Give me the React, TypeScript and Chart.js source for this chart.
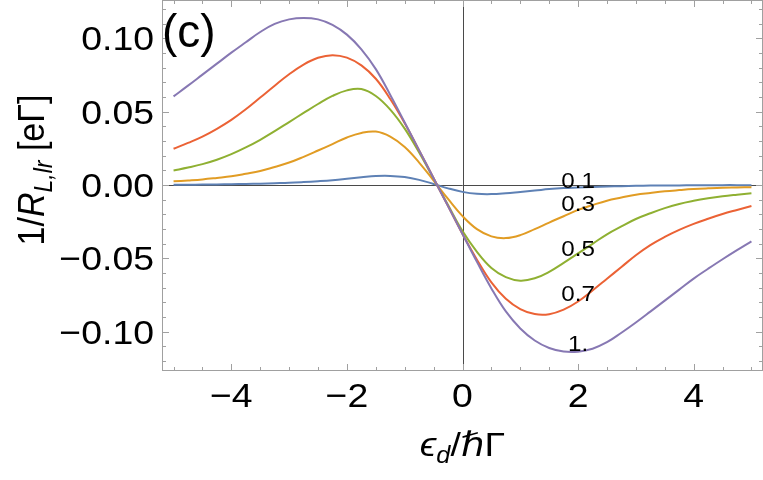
import React, { useEffect, useRef } from "react";
import { Chart, registerables } from "chart.js";

Chart.register(...registerables);

// x grid (ε_d / ħΓ)
const xs = [-5, -4.75, -4.5, -4.25, -4, -3.75, -3.5, -3.25, -3, -2.75, -2.5, -2.25, -2, -1.75, -1.5, -1.25, -1, -0.75, -0.5, -0.25, 0, 0.25, 0.5, 0.75, 1, 1.25, 1.5, 1.75, 2, 2.25, 2.5, 2.75, 3, 3.25, 3.5, 3.75, 4, 4.25, 4.5, 4.75, 5];

// series values (1/R_{L,lr} in eΓ)
const s01 = [0.0002, 0.0002, 0.0003, 0.0004, 0.0005, 0.0007, 0.0009, 0.0012, 0.0015, 0.002, 0.0026, 0.0033, 0.0042, 0.0052, 0.0061, 0.0062, 0.0054, 0.0035, 0.0007, -0.0023, -0.0047, -0.006, -0.0062, -0.0056, -0.0047, -0.0038, -0.0028, -0.0021, -0.0017, -0.0013, -0.001, -0.0008, -0.0006, -0.0004, -0.0003, -0.0003, -0.0002, -0.0002, -0.0001, -0.0001, -0.0001];
const s03 = [0.0025, 0.0031, 0.0038, 0.0048, 0.0059, 0.0076, 0.0095, 0.0123, 0.0153, 0.0192, 0.0235, 0.0279, 0.0324, 0.0355, 0.0364, 0.033, 0.0259, 0.0153, 0.003, -0.0095, -0.0212, -0.0301, -0.035, -0.0362, -0.0342, -0.0301, -0.0256, -0.0213, -0.017, -0.0137, -0.0107, -0.0086, -0.0066, -0.0054, -0.0043, -0.0035, -0.0028, -0.0023, -0.0019, -0.0017, -0.0015];
const s05 = [0.0099, 0.0119, 0.0142, 0.0172, 0.021, 0.0256, 0.0308, 0.0367, 0.0429, 0.0491, 0.0552, 0.0607, 0.0645, 0.0654, 0.0607, 0.0514, 0.0384, 0.0221, 0.0043, -0.0137, -0.0314, -0.0456, -0.0566, -0.0628, -0.0652, -0.0636, -0.0592, -0.0531, -0.0466, -0.0401, -0.0336, -0.0282, -0.0232, -0.0193, -0.0158, -0.0129, -0.0108, -0.0091, -0.0077, -0.0066, -0.0056];
const s07 = [0.0247, 0.0287, 0.033, 0.0383, 0.0444, 0.0516, 0.0596, 0.0677, 0.0755, 0.0821, 0.0867, 0.0885, 0.0868, 0.0815, 0.0724, 0.0586, 0.0421, 0.0236, 0.0046, -0.0144, -0.0334, -0.0509, -0.0664, -0.0776, -0.0846, -0.088, -0.0881, -0.085, -0.0794, -0.0719, -0.0639, -0.0559, -0.0479, -0.041, -0.0354, -0.0306, -0.0265, -0.023, -0.0198, -0.017, -0.0143];
const s10 = [0.0604, 0.0677, 0.0752, 0.0827, 0.0902, 0.0973, 0.1043, 0.1098, 0.1129, 0.1139, 0.1129, 0.1092, 0.1025, 0.0925, 0.079, 0.0614, 0.0426, 0.0236, 0.0046, -0.0144, -0.0334, -0.0524, -0.0705, -0.0862, -0.0978, -0.106, -0.1111, -0.1135, -0.1136, -0.1116, -0.1072, -0.1007, -0.0937, -0.0863, -0.0788, -0.0713, -0.0638, -0.0571, -0.0506, -0.0444, -0.0384];

// curve labels (text placed in data coordinates)
const curveLabels = ["1.", "0.7", "0.5", "0.3", "0.1"];
const curveLabelX = [2, 2, 2, 2, 2];
const curveLabelY = [-0.1079, -0.0738, -0.043, -0.0123, 0.0034];

const seriesList = [s10, s07, s05, s03, s01];
const seriesColors = ["#8778B3", "#EB6235", "#8FB032", "#E19C24", "#5E81B5"];

// ticks
const xTickValues = [-4, -2, 0, 2, 4];
const xTickLabels = ["\u22124", "\u22122", "0", "2", "4"];
const yTickValues = [0.1, 0.05, 0, -0.05, -0.1];
const yTickLabels = ["0.10", "0.05", "0.00", "\u22120.05", "\u22120.10"];

const panelLabel = "(c)";

const FONT = '"Liberation Sans", Arial, Helvetica, "DejaVu Sans", sans-serif';
const SX = 1.1;

type Piece = { t: string; font: string; dy?: number };

function drawPieces(ctx: CanvasRenderingContext2D, pieces: Piece[], x: number, y: number, rotate: boolean) {
  ctx.save();
  ctx.translate(x, y);
  ctx.scale(SX, 1);
  if (rotate) ctx.rotate(-Math.PI / 2);
  ctx.fillStyle = "#000";
  ctx.textBaseline = "alphabetic";
  ctx.textAlign = "left";
  let total = 0;
  const widths = pieces.map((p) => {
    ctx.font = p.font;
    const w = ctx.measureText(p.t).width;
    total += w;
    return w;
  });
  let cx = -total / 2;
  pieces.forEach((p, i) => {
    ctx.font = p.font;
    ctx.fillText(p.t, cx, p.dy || 0);
    cx += widths[i];
  });
  ctx.restore();
}

function drawText(ctx: CanvasRenderingContext2D, t: string, x: number, y: number, font: string, align: CanvasTextAlign, sx = SX) {
  ctx.save();
  ctx.translate(x, y);
  ctx.scale(sx, 1);
  ctx.font = font;
  ctx.textAlign = align;
  ctx.textBaseline = "alphabetic";
  ctx.fillStyle = "#000";
  ctx.fillText(t, 0, 0);
  ctx.restore();
}

const framePlugin = {
  id: "mmaFrame",
  beforeDatasetsDraw(chart: any) {
    const { ctx, chartArea, scales } = chart;
    const { left, right, top, bottom } = chartArea;
    const x0 = Math.round(scales.x.getPixelForValue(0)) + 0.5;
    const y0 = Math.round(scales.y.getPixelForValue(0)) + 0.5;
    ctx.save();
    ctx.strokeStyle = "#4a4a4a";
    ctx.lineWidth = 1;
    ctx.beginPath();
    ctx.moveTo(x0, top);
    ctx.lineTo(x0, bottom);
    ctx.moveTo(left, y0);
    ctx.lineTo(right, y0);
    ctx.stroke();
    ctx.restore();
  },
  afterDatasetsDraw(chart: any) {
    const { ctx, chartArea, scales } = chart;
    const { left, right, top, bottom } = chartArea;
    ctx.save();
    ctx.strokeStyle = "#a0a0a0";
    ctx.lineWidth = 1;
    ctx.strokeRect(left + 0.5, top + 0.5, right - left - 1, bottom - top - 1);
    ctx.beginPath();
    for (let i = -10; i <= 10; i++) {
      const v = i * 0.5;
      const px = Math.round(scales.x.getPixelForValue(v)) + 0.5;
      const len = i % 4 === 0 ? 7 : 4;
      ctx.moveTo(px, bottom);
      ctx.lineTo(px, bottom - len);
      ctx.moveTo(px, top);
      ctx.lineTo(px, top + len);
    }
    for (let i = -12; i <= 12; i++) {
      const v = i / 100;
      const py = Math.round(scales.y.getPixelForValue(v)) + 0.5;
      const len = i % 5 === 0 ? 7 : 4;
      ctx.moveTo(left, py);
      ctx.lineTo(left + len, py);
      ctx.moveTo(right, py);
      ctx.lineTo(right - len, py);
    }
    ctx.stroke();
    ctx.restore();

    // tick labels
    const tickFont = `34px ${FONT}`;
    xTickValues.forEach((v, i) => {
      drawText(ctx, xTickLabels[i], scales.x.getPixelForValue(v), bottom + 36, tickFont, "center");
    });
    yTickValues.forEach((v, i) => {
      drawText(ctx, yTickLabels[i], left - 8, scales.y.getPixelForValue(v) + 12, tickFont, "right");
    });

    // curve labels
    const lblFont = `22px ${FONT}`;
    curveLabels.forEach((t, i) => {
      drawText(ctx, t, scales.x.getPixelForValue(curveLabelX[i]), scales.y.getPixelForValue(curveLabelY[i]) + 8, lblFont, "center");
    });

    // panel label
    drawText(ctx, panelLabel, left, 47, `46px ${FONT}`, "left", 1);

    // x title: ϵ_d/ℏΓ
    drawPieces(
      ctx,
      [
        { t: "\u03F5", font: `italic 34px ${FONT}` },
        { t: "d", font: `italic 23px ${FONT}`, dy: 7 },
        { t: "/", font: `34px ${FONT}` },
        { t: "\u210F", font: `italic 34px ${FONT}` },
        { t: "\u0393", font: `34px ${FONT}` },
      ],
      (left + right) / 2,
      bottom + 85,
      false
    );

    // y title: 1/R_{L,lr} [eΓ]
    drawPieces(
      ctx,
      [
        { t: "1/", font: `34px ${FONT}` },
        { t: "R", font: `italic 34px ${FONT}` },
        { t: "L,lr", font: `italic 23px ${FONT}`, dy: 7 },
        { t: " [e\u0393]", font: `34px ${FONT}` },
      ],
      44,
      170,
      true
    );
  },
};

export default function App() {
  const ref = useRef<HTMLCanvasElement>(null);
  useEffect(() => {
    if (!ref.current) return;
    const chart = new Chart(ref.current, {
      type: "line",
      data: {
        datasets: seriesList.map((arr, k) => ({
          label: curveLabels[k],
          data: xs.map((x, i) => ({ x, y: arr[i] })),
          borderColor: seriesColors[k],
          borderWidth: 2,
          pointRadius: 0,
          fill: false,
          tension: 0.4,
        })),
      },
      options: {
        responsive: false,
        devicePixelRatio: 1,
        animation: false,
        events: [],
        layout: { padding: 0 },
        plugins: { legend: { display: false }, tooltip: { enabled: false } },
        scales: {
          x: {
            type: "linear",
            min: -5.2,
            max: 5.2,
            ticks: { display: false },
            grid: { display: false },
            border: { display: false },
            afterFit: (s: any) => {
              s.height = 109;
            },
          },
          y: {
            type: "linear",
            min: -0.1268,
            max: 0.1261,
            ticks: { display: false },
            grid: { display: false },
            border: { display: false },
            afterFit: (s: any) => {
              s.width = 162;
            },
          },
        },
      },
      plugins: [framePlugin],
    } as any);
    return () => chart.destroy();
  }, []);
  return (
    <div style={{ position: "fixed", left: 0, top: 0, width: 763, height: 480, background: "#fff" }}>
      <canvas ref={ref} width={763} height={480} style={{ width: 763, height: 480, display: "block" }} />
    </div>
  );
}
